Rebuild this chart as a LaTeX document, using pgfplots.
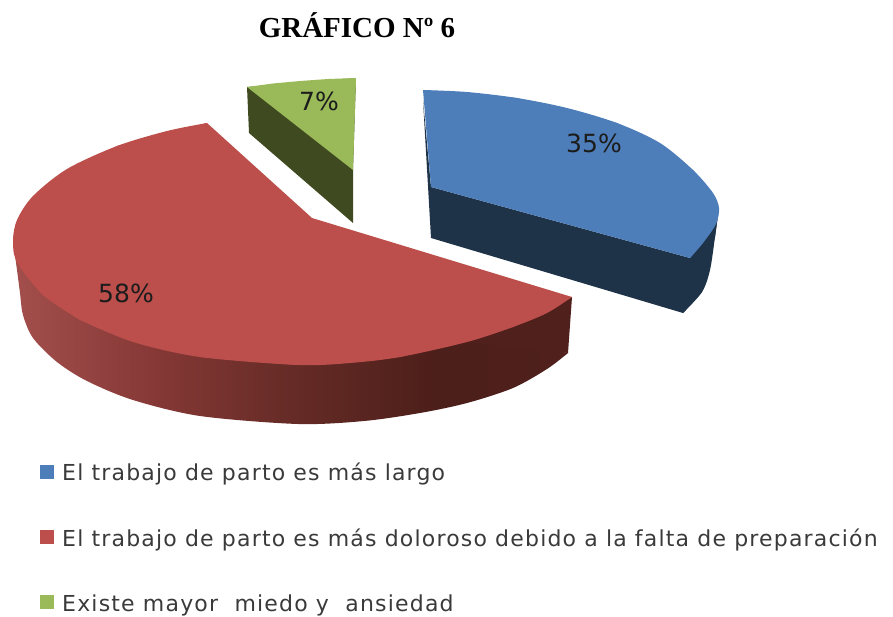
\documentclass[border=0pt]{standalone}
\usepackage{fontspec}
\setmainfont{DejaVu Sans}
\newfontfamily\titlefont{Liberation Serif}
\newfontfamily\legendfont[LetterSpace=5.4]{DejaVu Sans}
\usepackage{pgfplots}
\pgfplotsset{compat=1.18}
\definecolor{bluetop}{HTML}{4E7EB9}
\definecolor{blueside}{HTML}{1E3248}
\definecolor{redtop}{HTML}{BC4F4B}
\definecolor{reddark}{HTML}{4F201C}
\definecolor{greentop}{HTML}{9ABA59}
\definecolor{greenside}{HTML}{3F4A20}
\definecolor{labeltext}{HTML}{1C1C1C}
\definecolor{legendtext}{HTML}{3A3A3A}
\pgfdeclarehorizontalshading{redside}{100bp}{
  rgb(0bp)=(.64,.31,.30);
  rgb(25bp)=(.64,.31,.30);
  rgb(38bp)=(.52,.22,.21);
  rgb(50bp)=(.40,.17,.15);
  rgb(63bp)=(.30,.12,.10);
  rgb(75bp)=(.31,.125,.11);
  rgb(100bp)=(.31,.125,.11)}
\begin{document}
\begin{tikzpicture}
\begin{axis}[
  hide axis, scale only axis, width=893pt, height=616pt,
  xmin=0, xmax=893, ymin=0, ymax=616, y dir=reverse,
  clip=false]
\path (axis cs:0,0) rectangle (axis cs:893,616);
% green slice
\addplot[draw=none, fill=greenside] coordinates {(247,87) (249,133) (353,223) (353,170) (356,78)};
\addplot[draw=none, fill=greentop] coordinates {(247,87) (273,83.5) (300,81) (328,79) (356,78) (353,170)};
% blue slice: inner polygon, then the curved rim over it
\addplot[draw=none, fill=blueside] coordinates {(423,100) (431,238) (683,313) (702,292) (715,237) (718,215) (690,258) (431,187)};
\addplot[draw=none, fill=blueside, smooth] coordinates {(718,215) (715,237) (710,270) (702,292) (683,313)};
\addplot[draw=none, fill=bluetop] coordinates {(423,90) (517,98) (617,123) (693,170) (719,208) (690,258) (431,187)};
\addplot[draw=none, fill=bluetop, smooth] coordinates {
  (423,90) (467,92) (517,98) (567,108) (617,123) (660,143) (693,170) (713,193) (719,208) (716,224) (703,243) (690,258)};
% red slice
\addplot[draw=none, shade, shading=redside, smooth] coordinates {
  (13,241) (17,270) (20,293) (23,315) (33,338) (57,362) (87,381) (133,400) (200,416) (298,424)
  (364,421) (420,413) (467,403) (513,388) (547,369) (568,353)};
\addplot[draw=none, fill=reddark] coordinates {(568,353) (572,297) (350,330)};
\addplot[draw=none, fill=redtop] coordinates {
  (207,123) (117,146) (33,196) (13,241) (43,295) (80,320) (200,357) (298,365) (400,357) (513,327) (572,297) (312,218)};
\addplot[draw=none, fill=redtop, smooth] coordinates {
  (207,123) (167,131) (117,146) (67,169) (33,196) (17,220) (13,241) (17,262) (43,295) (80,320)};
\addplot[draw=none, fill=redtop, smooth] coordinates {
  (80,320) (133,342) (200,357) (298,365) (350,363) (400,357) (467,342) (513,327) (547,313) (572,297)};
% legend squares
\addplot[only marks, mark=square*, mark size=6.5pt, color=bluetop] coordinates {(47,472)};
\addplot[only marks, mark=square*, mark size=6.5pt, color=redtop] coordinates {(47,537)};
\addplot[only marks, mark=square*, mark size=6.5pt, color=greentop] coordinates {(47,602)};
% text
\node[anchor=base, font=\titlefont\bfseries\fontsize{29}{32}\selectfont, text=black] at (axis cs:357,37) {GRÁFICO Nº 6};
\node[font=\fontsize{25}{28}\selectfont, text=labeltext] at (axis cs:594,143) {35\%};
\node[font=\fontsize{25}{28}\selectfont, text=labeltext] at (axis cs:319,101) {7\%};
\node[font=\fontsize{25}{28}\selectfont, text=labeltext] at (axis cs:126,293) {58\%};
\node[anchor=base west, inner sep=0pt, font=\legendfont\fontsize{22}{24}\selectfont, text=legendtext] at (axis cs:62,480) {El trabajo de parto es más largo};
\node[anchor=base west, inner sep=0pt, font=\legendfont\fontsize{22}{24}\selectfont, text=legendtext] at (axis cs:62,546) {El trabajo de parto es más doloroso debido a la falta de preparación};
\node[anchor=base west, inner sep=0pt, font=\legendfont\fontsize{22}{24}\selectfont, text=legendtext] at (axis cs:62,611) {Existe mayor\ \ miedo y\ \ ansiedad};
\end{axis}
\end{tikzpicture}
\end{document}
